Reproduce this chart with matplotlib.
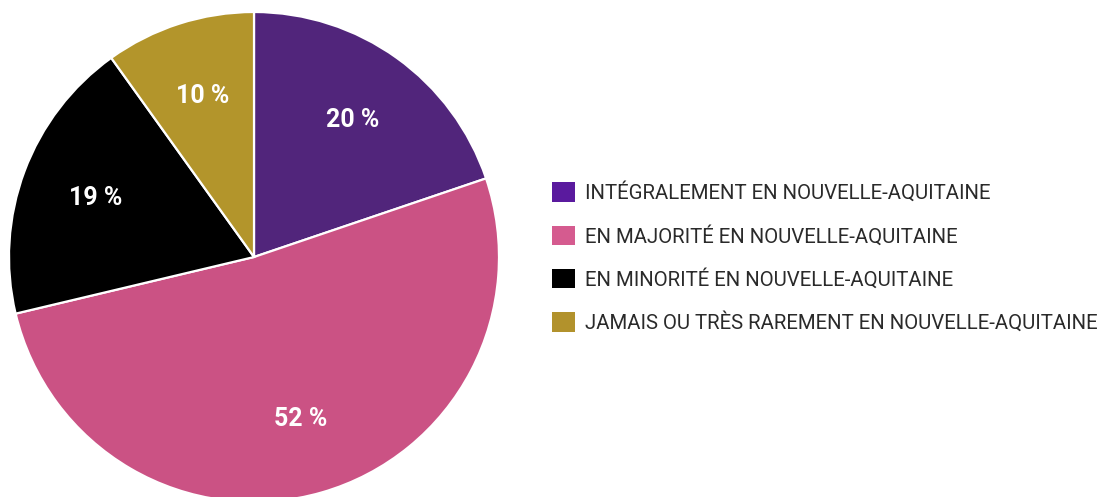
import numpy as np
import matplotlib.pyplot as plt
from matplotlib.patches import Patch

# Répartition des réponses
categories = [
    "INTÉGRALEMENT EN NOUVELLE-AQUITAINE",
    "EN MAJORITÉ EN NOUVELLE-AQUITAINE",
    "EN MINORITÉ EN NOUVELLE-AQUITAINE",
    "JAMAIS OU TRÈS RAREMENT EN NOUVELLE-AQUITAINE",
]
values = [20, 52, 19, 10]
pct_labels = [f"{v} %" for v in values]

# Couleurs des parts et des carrés de légende
pie_colors = ["#51257b", "#cb5284", "#000000", "#b3952b"]
legend_colors = ["#5a1a9e", "#d55b8f", "#000000", "#b2922c"]

plt.rcParams["font.family"] = ["Roboto", "DejaVu Sans"]

fig = plt.figure(figsize=(11.02, 4.97), dpi=100)
ax = fig.add_axes([9 / 1102, -5 / 497, 490 / 1102, 490 / 497])

wedges, _ = ax.pie(
    values,
    colors=pie_colors,
    startangle=90,
    counterclock=False,
    radius=1,
    wedgeprops=dict(edgecolor="white", linewidth=1.6),
)
ax.set_xlim(-1, 1)
ax.set_ylim(-1, 1)
ax.set_aspect("equal")
ax.axis("off")

# Étiquettes au milieu de chaque part
for w, lab in zip(wedges, pct_labels):
    mid = np.deg2rad((w.theta1 + w.theta2) / 2)
    ax.text(0.69 * np.cos(mid), 0.69 * np.sin(mid), lab,
            ha="center", va="center", color="white",
            fontsize=18, fontweight="bold")

handles = [Patch(facecolor=c, edgecolor="none") for c in legend_colors]
fig.legend(
    handles, categories,
    loc="center left",
    bbox_to_anchor=(552 / 1102, 1 - 257.5 / 497),
    frameon=False,
    prop=dict(family=["Roboto", "DejaVu Sans"], size=14.7),
    handlelength=1.15,
    handleheight=1.1,
    handletextpad=0.45,
    labelspacing=1.1,
    borderpad=0,
    borderaxespad=0,
    labelcolor="#2a2a2a",
)

fig.savefig("out.png", dpi=100)
